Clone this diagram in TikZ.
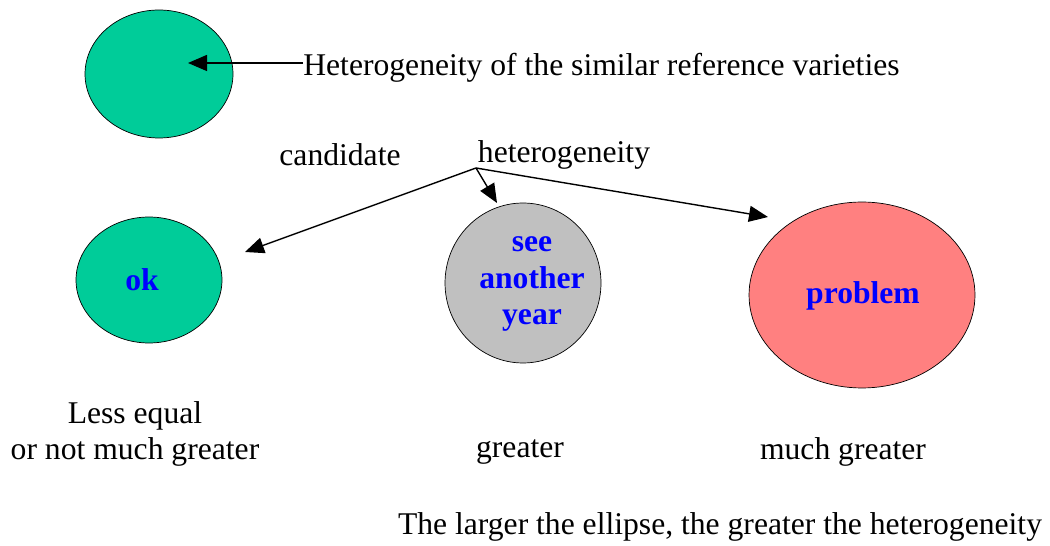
\documentclass[tikz,border=0pt]{standalone}
\usepackage{fontspec}
\setmainfont{Liberation Serif}
\usepackage{tikz}
\usetikzlibrary{shapes.geometric, arrows.meta, positioning}

\definecolor{lgreen}{RGB}{0,204,153}
\definecolor{lgray}{RGB}{192,192,192}
\definecolor{lred}{RGB}{255,128,128}

\begin{document}
\begin{tikzpicture}[
    x=0.02cm, y=-0.02cm,
    blob/.style={ellipse, draw, thin, inner sep=0pt},
    verdict/.style={inner sep=0pt, align=center, text=blue,
                    font=\fontsize{18}{20.7}\selectfont\bfseries},
    lbl/.style={font=\fontsize{18}{20.7}\selectfont, inner sep=0pt, align=center},
    arrow/.style={-{Triangle[length=0.38cm, width=0.32cm]}, thick}
]
    \useasboundingbox (0,0) rectangle (1050,546);

    % reference varieties
    \node[blob, fill=lgreen, minimum width=2.96cm, minimum height=2.56cm] (ref) at (159,74) {};
    \node[lbl, anchor=west] (reftext) at (303,68) {Heterogeneity of the similar reference varieties};
    \coordinate (reftip) at (188,63);
    \draw[arrow] (reftext.west |- reftip) -- (reftip);

    % candidate
    \node[lbl] (cand) at (340,155) {candidate};
    \node[lbl] (het)  at (564,155) {heterogeneity};
    \coordinate (src) at (476,168);

    % the three outcomes
    \node[blob, fill=lgreen, minimum width=2.92cm, minimum height=2.52cm] (ok) at (149,280) {};
    \node[blob, fill=lgray, minimum width=3.12cm, minimum height=3.2cm] (see) at (523,283) {};
    \node[blob, fill=lred, minimum width=4.52cm, minimum height=3.72cm] (prob) at (862,295) {};
    \node[verdict] (oktext)   at (142,280) {ok};
    \node[verdict] (seetext)  at (532,284) {see\\another\\year};
    \node[verdict] (probtext) at (863,296) {problem};

    \coordinate (oktip)   at (245,252);
    \coordinate (seetip)  at (497,203);
    \coordinate (probtip) at (768,217);
    \draw[arrow] (src) -- (oktip);
    \draw[arrow] (src) -- (seetip);
    \draw[arrow] (src) -- (probtip);

    % labels below
    \node[lbl] (less)  at (135,434) {Less equal\\or not much greater};
    \node[lbl] (gr)    at (520,452) {greater};
    \node[lbl] (much)  at (843,452) {much greater};

    \node[lbl] (note) at (720,527) {The larger the ellipse, the greater the heterogeneity};
\end{tikzpicture}
\end{document}
